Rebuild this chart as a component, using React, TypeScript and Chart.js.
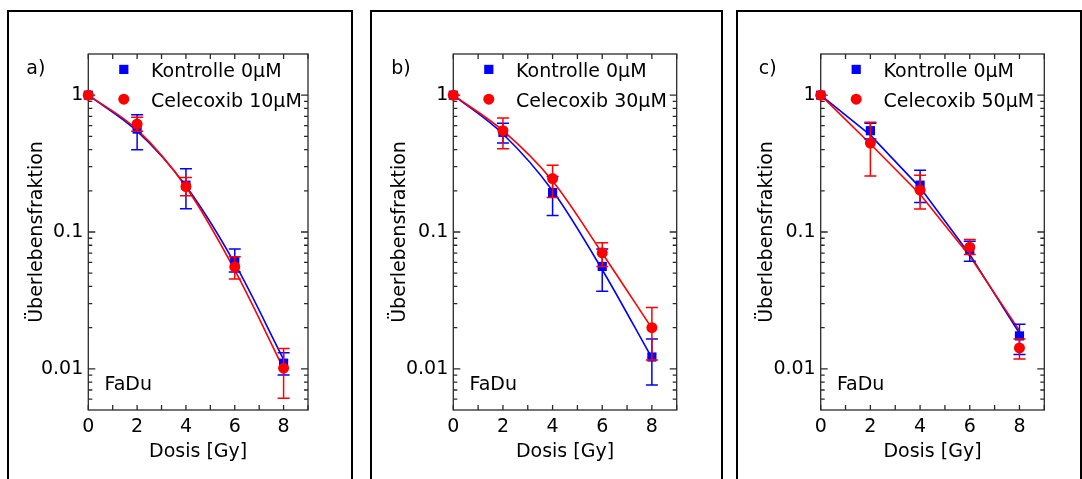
import React, { useEffect, useRef } from 'react';
import { Chart, registerables } from 'chart.js';

Chart.register(...registerables);

// ---------------- data ----------------
const doses = [0, 2, 4, 6, 8];
const xTickValues = [0, 1, 2, 3, 4, 5, 6, 7, 8, 9];
const xLabelValues = [0, 2, 4, 6, 8];
const yMajorTicks = [0.01, 0.1, 1];
const yMinorTicks = [
  0.006, 0.007, 0.008, 0.009,
  0.02, 0.03, 0.04, 0.05, 0.06, 0.07, 0.08, 0.09,
  0.2, 0.3, 0.4, 0.5, 0.6, 0.7, 0.8, 0.9,
];

const controlLabel = 'Kontrolle 0µM';
const panelTags = ['a)', 'b)', 'c)'];
const celecoxibLabels = ['Celecoxib 10µM', 'Celecoxib 30µM', 'Celecoxib 50µM'];
const cellLine = 'FaDu';
const xTitle = 'Dosis [Gy]';
const yTitle = 'Überlebensfraktion';

// panel a
const ctrlA = [1, 0.565, 0.22, 0.061, 0.011];
const ctrlALo = [null, 0.4, 0.148, 0.051, 0.009];
const ctrlAHi = [null, 0.72, 0.29, 0.075, 0.0131];
const celeA = [1, 0.615, 0.215, 0.0556, 0.0101];
const celeALo = [null, 0.544, 0.184, 0.0454, 0.0061];
const celeAHi = [null, 0.69, 0.25, 0.066, 0.0141];
const fitCtrlA = [1, 0.545, 0.217, 0.0589, 0.0117];
const fitCeleA = [1, 0.56, 0.213, 0.0526, 0.0100];

// panel b
const ctrlB = [1, 0.535, 0.194, 0.056, 0.0122];
const ctrlBLo = [null, 0.447, 0.132, 0.0369, 0.0076];
const ctrlBHi = [null, 0.623, 0.255, 0.075, 0.0165];
const celeB = [1, 0.55, 0.246, 0.0705, 0.02];
const celeBLo = [null, 0.406, 0.179, 0.056, 0.0116];
const celeBHi = [null, 0.68, 0.308, 0.0835, 0.0281];
const fitCtrlB = [1, 0.52, 0.2, 0.053, 0.012];
const fitCeleB = [1, 0.55, 0.236, 0.07, 0.0198];

// panel c
const ctrlC = [1, 0.55, 0.22, 0.0737, 0.0174];
const ctrlCLo = [null, 0.478, 0.164, 0.061, 0.0127];
const ctrlCHi = [null, 0.623, 0.283, 0.0857, 0.0212];
const celeC = [1, 0.447, 0.202, 0.0775, 0.0142];
const celeCLo = [null, 0.257, 0.147, 0.0685, 0.0118];
const celeCHi = [null, 0.634, 0.26, 0.0883, 0.0165];
const fitCtrlC = [1, 0.51, 0.211, 0.0685, 0.0182];
const fitCeleC = [1, 0.44, 0.189, 0.0666, 0.019];

// ---------------- styling / layout ----------------
const FONT = '"DejaVu Sans", sans-serif';
const FONT_SIZE = 19;
const BLUE = '#0000ff';
const RED = '#ff0000';
const AXIS = '#2a2a2a';
const BOX_TOP = 10;
const CANVAS_TOP = 12;
const CANVAS_H = 467;
const PLOT_TOP = 54;
const PLOT_BOTTOM = 410;
const X_TITLE_MID = 452.3;

type Arr = (number | null)[];
interface PanelSpec {
  tag: string;
  celeLabel: string;
  ctrl: number[]; ctrlLo: Arr; ctrlHi: Arr;
  cele: number[]; celeLo: Arr; celeHi: Arr;
  fitCtrl: number[]; fitCele: number[];
  smooth: boolean;
  boxLeft: number; boxWidth: number;
  canvasLeft: number; canvasWidth: number;
  plotLeft: number; plotRight: number;
  yTitleMid: number;
}

const panels: PanelSpec[] = [
  {
    tag: panelTags[0], celeLabel: celecoxibLabels[0],
    ctrl: ctrlA, ctrlLo: ctrlALo, ctrlHi: ctrlAHi,
    cele: celeA, celeLo: celeALo, celeHi: celeAHi,
    fitCtrl: fitCtrlA, fitCele: fitCeleA, smooth: true,
    boxLeft: 7, boxWidth: 346, canvasLeft: 9, canvasWidth: 342,
    plotLeft: 88.3, plotRight: 308, yTitleMid: 36.7,
  },
  {
    tag: panelTags[1], celeLabel: celecoxibLabels[1],
    ctrl: ctrlB, ctrlLo: ctrlBLo, ctrlHi: ctrlBHi,
    cele: celeB, celeLo: celeBLo, celeHi: celeBHi,
    fitCtrl: fitCtrlB, fitCele: fitCeleB, smooth: true,
    boxLeft: 370, boxWidth: 353, canvasLeft: 372, canvasWidth: 349,
    plotLeft: 453.3, plotRight: 676.7, yTitleMid: 400.1,
  },
  {
    tag: panelTags[2], celeLabel: celecoxibLabels[2],
    ctrl: ctrlC, ctrlLo: ctrlCLo, ctrlHi: ctrlCHi,
    cele: celeC, celeLo: celeCLo, celeHi: celeCHi,
    fitCtrl: fitCtrlC, fitCele: fitCeleC, smooth: false,
    boxLeft: 736, boxWidth: 346, canvasLeft: 738, canvasWidth: 342,
    plotLeft: 820.7, plotRight: 1044.3, yTitleMid: 766.7,
  },
];

const fontStr = `${FONT_SIZE}px ${FONT}`;

const decorPlugin = {
  id: 'decor',
  beforeDatasetsDraw(chart: any) {
    const { ctx, chartArea: a, scales } = chart;
    const x = scales.x;
    const y = scales.y;
    ctx.save();
    ctx.strokeStyle = AXIS;
    ctx.lineWidth = 1.3;
    ctx.strokeRect(a.left, a.top, a.right - a.left, a.bottom - a.top);
    ctx.beginPath();
    for (const t of x.ticks) {
      const px = x.getPixelForValue(t.value);
      ctx.moveTo(px, a.bottom);
      ctx.lineTo(px, a.bottom - 5);
      ctx.moveTo(px, a.top);
      ctx.lineTo(px, a.top + 5);
    }
    for (const t of y.ticks) {
      const py = y.getPixelForValue(t.value);
      const len = yMajorTicks.includes(t.value) ? 7 : 4;
      ctx.moveTo(a.left, py);
      ctx.lineTo(a.left + len, py);
      ctx.moveTo(a.right, py);
      ctx.lineTo(a.right - len, py);
    }
    ctx.stroke();
    ctx.restore();
  },
  beforeDatasetDraw(chart: any, args: any) {
    const ds = chart.data.datasets[args.index];
    if (!ds.errLo) return;
    const { ctx, scales } = chart;
    const x = scales.x;
    const y = scales.y;
    ctx.save();
    ctx.strokeStyle = ds.borderColor;
    ctx.lineWidth = 1.5;
    ctx.beginPath();
    doses.forEach((d, i) => {
      const lo = ds.errLo[i];
      const hi = ds.errHi[i];
      if (lo == null || hi == null) return;
      const px = x.getPixelForValue(d);
      const pLo = y.getPixelForValue(lo);
      const pHi = y.getPixelForValue(hi);
      ctx.moveTo(px, pLo);
      ctx.lineTo(px, pHi);
      ctx.moveTo(px - 6, pLo);
      ctx.lineTo(px + 6, pLo);
      ctx.moveTo(px - 6, pHi);
      ctx.lineTo(px + 6, pHi);
    });
    ctx.stroke();
    ctx.restore();
  },
  afterDatasetsDraw(chart: any, _args: any, opts: any) {
    const { ctx, chartArea: a } = chart;
    ctx.save();
    ctx.font = fontStr;
    ctx.fillStyle = '#000';
    ctx.textBaseline = 'alphabetic';
    ctx.textAlign = 'left';
    ctx.fillText(opts.tag, a.left - 62, a.top + 20);
    ctx.fillText(opts.cellLine, a.left + 16.2, a.bottom - 20);
    // legend
    let row = 0;
    chart.data.datasets.forEach((ds: any) => {
      if (!ds.inLegend) return;
      row = ds.legendRow;
      const cx = a.left + 35.5;
      const cy = a.top + 15.4 + row * 29.8;
      ctx.fillStyle = ds.backgroundColor;
      ctx.beginPath();
      if (ds.pointStyle === 'rect') {
        const s = Math.SQRT1_2 * ds.pointRadius;
        ctx.rect(cx - s, cy - s, 2 * s, 2 * s);
      } else {
        ctx.arc(cx, cy, ds.pointRadius, 0, Math.PI * 2);
      }
      ctx.fill();
      ctx.fillStyle = '#000';
      ctx.fillText(ds.label, a.left + 62.8, a.top + 22.7 + row * 30);
    });
    ctx.restore();
  },
};

function buildConfig(p: PanelSpec): any {
  const offX = p.canvasLeft;
  const offY = CANVAS_TOP;
  const W = p.canvasWidth;
  const L = p.plotLeft - offX;
  const R = p.plotRight - offX;
  const T = PLOT_TOP - offY;
  const B = PLOT_BOTTOM - offY;
  const half = (FONT_SIZE * 1.2) / 2;
  const yScaleLeft = p.yTitleMid - offX - half;
  const xScaleBottom = X_TITLE_MID - offY + half;
  const font = { family: FONT, size: FONT_SIZE };
  const pts = (ys: number[]) => doses.map((d, i) => ({ x: d, y: ys[i] }));
  const curve = (ys: number[], color: string, order: number) => ({
    label: 'fit',
    data: pts(ys),
    borderColor: color,
    backgroundColor: color,
    borderWidth: 1.6,
    pointRadius: 0,
    fill: false,
    tension: 0,
    cubicInterpolationMode: p.smooth ? 'monotone' : 'default',
    order,
    clip: false,
  });
  return {
    type: 'line',
    data: {
      datasets: [
        curve(p.fitCtrl, BLUE, 4),
        curve(p.fitCele, RED, 3),
        {
          label: controlLabel,
          data: pts(p.ctrl),
          showLine: false,
          pointStyle: 'rect',
          pointRadius: 6.5,
          pointBorderWidth: 0,
          borderWidth: 0,
          backgroundColor: BLUE,
          borderColor: BLUE,
          errLo: p.ctrlLo,
          errHi: p.ctrlHi,
          inLegend: true,
          legendRow: 0,
          order: 2,
          clip: false,
        },
        {
          label: p.celeLabel,
          data: pts(p.cele),
          showLine: false,
          pointStyle: 'circle',
          pointRadius: 5.5,
          pointBorderWidth: 0,
          borderWidth: 0,
          backgroundColor: RED,
          borderColor: RED,
          errLo: p.celeLo,
          errHi: p.celeHi,
          inLegend: true,
          legendRow: 1,
          order: 1,
          clip: false,
        },
      ],
    },
    options: {
      responsive: false,
      animation: false,
      events: [],
      layout: {
        padding: { left: yScaleLeft, top: T, right: W - R, bottom: CANVAS_H - xScaleBottom },
      },
      plugins: {
        legend: { display: false },
        tooltip: { enabled: false },
        decor: { tag: p.tag, cellLine },
      },
      scales: {
        x: {
          type: 'linear',
          min: 0,
          max: 9,
          afterBuildTicks: (s: any) => {
            s.ticks = xTickValues.map((v) => ({ value: v }));
          },
          afterFit: (s: any) => {
            s.height = xScaleBottom - B;
          },
          grid: { display: false, drawTicks: false },
          border: { display: false },
          ticks: {
            autoSkip: false,
            maxRotation: 0,
            padding: 5.5,
            color: '#000',
            font,
            callback: (v: any) => (xLabelValues.includes(v) ? String(v) : ''),
          },
          title: { display: true, text: xTitle, color: '#000', font, padding: 0 },
        },
        y: {
          type: 'logarithmic',
          min: 0.005,
          max: 2,
          afterBuildTicks: (s: any) => {
            s.ticks = [...yMinorTicks, ...yMajorTicks]
              .sort((m, n) => m - n)
              .map((v) => ({ value: v }));
          },
          afterFit: (s: any) => {
            s.width = L - yScaleLeft;
          },
          grid: { display: false, drawTicks: false },
          border: { display: false },
          ticks: {
            autoSkip: false,
            padding: 5,
            color: '#000',
            font,
            callback: (v: any) => (yMajorTicks.includes(v) ? String(v) : ''),
          },
          title: { display: true, text: yTitle, color: '#000', font, padding: 0 },
        },
      },
    },
    plugins: [decorPlugin],
  };
}

function Panel({ p }: { p: PanelSpec }) {
  const ref = useRef<HTMLCanvasElement>(null);
  useEffect(() => {
    if (!ref.current) return;
    const chart = new Chart(ref.current, buildConfig(p));
    return () => chart.destroy();
  }, [p]);
  return (
    <>
      <div
        style={{
          position: 'absolute',
          left: p.boxLeft,
          top: BOX_TOP,
          width: p.boxWidth,
          height: 600,
          border: '2px solid #000',
          boxSizing: 'border-box',
        }}
      />
      <canvas
        ref={ref}
        width={p.canvasWidth}
        height={CANVAS_H}
        style={{
          position: 'absolute',
          left: p.canvasLeft,
          top: CANVAS_TOP,
          width: p.canvasWidth,
          height: CANVAS_H,
          display: 'block',
        }}
      />
    </>
  );
}

export default function App() {
  return (
    <div
      style={{
        position: 'fixed',
        left: 0,
        top: 0,
        width: 1082,
        height: 479,
        overflow: 'hidden',
        background: '#fff',
      }}
    >
      {panels.map((p) => (
        <Panel key={p.tag} p={p} />
      ))}
    </div>
  );
}
